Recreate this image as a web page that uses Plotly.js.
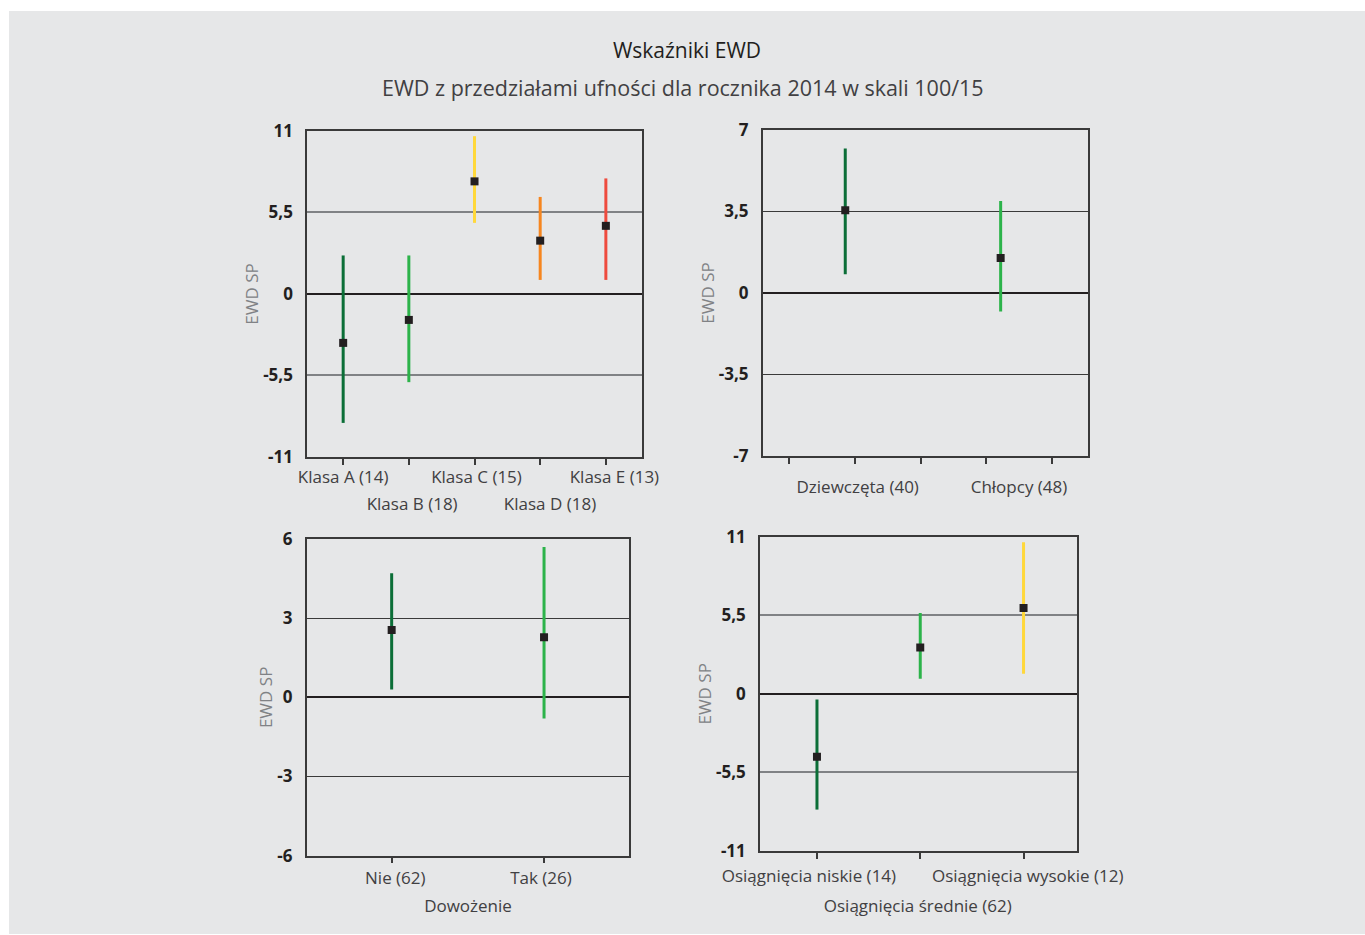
<!DOCTYPE html>
<html><head><meta charset="utf-8">
<script src="https://cdn.plot.ly/plotly-3.0.1.min.js"></script>
<style>html,body{margin:0;padding:0;background:#fff;width:1365px;height:935px;overflow:hidden}
#chart{position:absolute;left:9px;top:11px;width:1356px;height:923px}</style>
</head><body><div id="chart"></div>
<script>
// ---- Panel 1: Klasa ----
const klasaLabels = ['Klasa A (14)', 'Klasa B (18)', 'Klasa C (15)', 'Klasa D (18)', 'Klasa E (13)'];
const klasaEwd  = [-3.3, -1.75, 7.6, 3.6, 4.6];
const klasaLow  = [-8.7, -5.95, 4.8, 0.95, 0.95];
const klasaHigh = [2.6, 2.6, 10.65, 6.55, 7.8];

// ---- Panel 2: Płeć ----
const plecLabels = ['Dziewczęta (40)', 'Chłopcy (48)'];
const plecEwd  = [3.55, 1.5];
const plecLow  = [0.8, -0.8];
const plecHigh = [6.2, 3.95];

// ---- Panel 3: Dowożenie ----
const dowLabels = ['Nie (62)', 'Tak (26)'];
const dowEwd  = [2.55, 2.28];
const dowLow  = [0.3, -0.8];
const dowHigh = [4.7, 5.7];

// ---- Panel 4: Osiągnięcia ----
const osLabels = ['Osiągnięcia niskie (14)', 'Osiągnięcia średnie (62)', 'Osiągnięcia wysokie (12)'];
const osEwd  = [-4.4, 3.25, 6.0];
const osLow  = [-8.1, 1.05, 1.4];
const osHigh = [-0.4, 5.65, 10.6];

// ---- y tick values / labels ----
const yVals1 = [-11, -5.5, 0, 5.5, 11];
const yText1 = ['-11', '-5,5', '0', '5,5', '11'];
const yVals2 = [-7, -3.5, 0, 3.5, 7];
const yText2 = ['-7', '-3,5', '0', '3,5', '7'];
const yVals3 = [-6, -3, 0, 3, 6];
const yText3 = ['-6', '-3', '0', '3', '6'];
const yVals4 = [-11, -5.5, 0, 5.5, 11];
const yText4 = ['-11', '-5,5', '0', '5,5', '11'];

// ---- styles ----
const DKGREEN = '#0b6e37', LTGREEN = '#2cb34a', YELLOW = '#ffd83b', ORANGE = '#f6861f', RED = '#ee4b3e';
const colors1 = [DKGREEN, LTGREEN, YELLOW, ORANGE, RED];
const colors2 = [DKGREEN, LTGREEN];
const colors3 = [DKGREEN, LTGREEN];
const colors4 = [DKGREEN, LTGREEN, YELLOW];
const FONT = 'Open Sans, Noto Sans, sans-serif';
const INK = '#231f20';

const traces = [];
function addPanel(ewd, low, high, cols, ax) {
  ewd.forEach((v, i) => {
    traces.push({
      type: 'scatter', mode: 'markers', x: [i], y: [v],
      xaxis: 'x' + ax, yaxis: 'y' + ax, showlegend: false, hoverinfo: 'y',
      marker: {symbol: 'square', size: 8, color: INK},
      error_y: {type: 'data', symmetric: false, array: [high[i] - v], arrayminus: [v - low[i]],
                color: cols[i], thickness: 3, width: 0}
    });
  });
}
addPanel(klasaEwd, klasaLow, klasaHigh, colors1, '');
addPanel(plecEwd, plecLow, plecHigh, colors2, '2');
addPanel(dowEwd, dowLow, dowHigh, colors3, '3');
addPanel(osEwd, osLow, osHigh, colors4, '4');
// empty traces so that the overlaying label axes are registered
[['x5', 'y'], ['x6', 'y'], ['x7', 'y2'], ['x8', 'y3'], ['x9', 'y4'], ['x10', 'y4']].forEach(([xa, ya]) => {
  traces.push({type: 'scatter', mode: 'markers', x: [], y: [], xaxis: xa, yaxis: ya,
    showlegend: false, hoverinfo: 'skip'});
});

function xMain(domain, range, tickvals, anchor) {
  return {domain, range, anchor, tickmode: 'array', tickvals, showticklabels: false,
    ticks: 'outside', ticklen: 6, tickwidth: 1.5, tickcolor: '#3a3a3a',
    showline: true, linecolor: '#3a3a3a', linewidth: 1.5, mirror: true,
    showgrid: false, zeroline: false, fixedrange: true};
}
function xLab(over, anchor, range, tickvals, ticktext, standoff, extra) {
  return Object.assign({overlaying: over, anchor, side: 'bottom', range, tickmode: 'array',
    tickvals, ticktext, ticks: '', showline: false, showgrid: false, zeroline: false,
    ticklabelstandoff: standoff, fixedrange: true,
    tickfont: {family: FONT, size: 17, color: '#414042'}}, extra || {});
}
function yMain(domain, range, tickvals, ticktext, anchor, grid) {
  return {domain, range, anchor, tickmode: 'array', tickvals, ticktext, ticks: '',
    showgrid: true, gridcolor: grid.c, gridwidth: grid.w,
    zeroline: true, zerolinecolor: INK, zerolinewidth: 1.5,
    showline: true, linecolor: '#3a3a3a', linewidth: 1.5, mirror: true, fixedrange: true,
    ticklabelstandoff: 9,
    tickfont: {family: FONT, size: 17, weight: 700, color: INK},
    title: {text: 'EWD SP', standoff: 0, font: {family: FONT, size: 17, color: '#808285'}}};
}

const r1 = [-0.55, 4.55], r2 = [-0.5315, 1.5637], r3 = [-0.558, 1.56], r4 = [-0.552, 2.52];
const layout = {
  width: 1356, height: 923,
  margin: {l: 0, r: 0, t: 0, b: 0, pad: 0},
  paper_bgcolor: '#e6e7e8', plot_bgcolor: '#e6e7e8',
  font: {family: FONT, color: INK},
  title: {text: 'Wskaźniki EWD', font: {family: FONT, size: 21, color: INK},
          x: 0.5, xanchor: 'center', xref: 'container', y: 1 - 40 / 923, yanchor: 'middle', yref: 'container'},
  annotations: [{text: 'EWD z przedziałami ufności dla rocznika 2014 w skali 100/15',
    xref: 'paper', yref: 'paper', x: 0.497, y: 1 - 77 / 923, xanchor: 'center', yanchor: 'middle',
    showarrow: false, font: {family: FONT, size: 21.5, color: '#414042'}}],
  xaxis:  xMain([0.2198, 0.4668], r1, [0, 1, 2, 3, 4], 'y'),
  yaxis:  yMain([0.5168, 0.8700], [-11, 11], yVals1, yText1, 'x', {c: '#808285', w: 2}),
  xaxis2: xMain([0.5558, 0.7959], r2, [-0.36, 0.064, 0.489, 0.903, 1.33], 'y2'),
  yaxis2: yMain([0.5179, 0.8711], [-7, 7], yVals2, yText2, 'x2', {c: '#3a3a3a', w: 1.2}),
  xaxis3: xMain([0.2195, 0.4575], r3, [0, 1], 'y3'),
  yaxis3: yMain([0.0848, 0.4280], [-6, 6], yVals3, yText3, 'x3', {c: '#3a3a3a', w: 1.2}),
  xaxis4: xMain([0.5538, 0.7878], r4, [0, 1, 2], 'y4'),
  yaxis4: yMain([0.0899, 0.4305], [-11, 11], yVals4, yText4, 'x4', {c: '#808285', w: 2}),
  // label axes
  xaxis5: xLab('x', 'y', r1, [0, 2.03, 4.13], [klasaLabels[0], klasaLabels[2], klasaLabels[4]], 8),
  xaxis6: xLab('x', 'y', r1, [1.05, 3.15], [klasaLabels[1], klasaLabels[3]], 35),
  xaxis7: xLab('x2', 'y2', r2, [0.08, 1.118], plecLabels, 19),
  xaxis8: xLab('x3', 'y3', r3, [0.024, 0.98], dowLabels, 10,
    {title: {text: 'Dowożenie', standoff: 12, font: {family: FONT, size: 17, color: '#414042'}}}),
  xaxis9: xLab('x4', 'y4', r4, [-0.078, 2.04], [osLabels[0], osLabels[2]], 13),
  xaxis10: xLab('x4', 'y4', r4, [0.976], [osLabels[1]], 43)
};
Plotly.newPlot('chart', traces, layout, {displayModeBar: false, responsive: false});
</script></body></html>
